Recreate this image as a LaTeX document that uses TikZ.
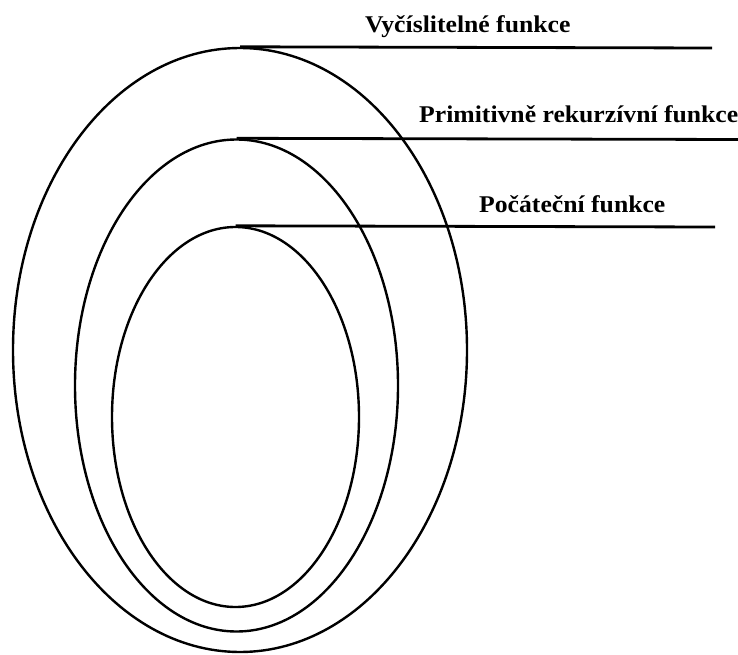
\documentclass[tikz,border=0pt]{standalone}
\usepackage{fontspec}
\setmainfont{Liberation Serif}
\usetikzlibrary{shapes.geometric}
\tikzset{
  setbox/.style={draw=black, line width=2.4pt, ellipse, inner sep=0pt},
  leader/.style={draw=black, line width=2.8pt},
  lbl/.style={anchor=base west, inner sep=0pt, font=\fontsize{24}{28}\selectfont\bfseries}
}
\begin{document}
\begin{tikzpicture}[x=1pt,y=-1pt]
\useasboundingbox (0,0) rectangle (738,655);
\node[setbox, minimum width=454pt, minimum height=604pt] (outer) at (240,350) {};
\node[setbox, minimum width=323pt, minimum height=492pt] (mid) at (236.5,385.5) {};
\node[setbox, minimum width=247pt, minimum height=380pt] (inner) at (235.5,417) {};
\coordinate (e1) at (712,48);
\coordinate (e2) at (738,139.5);
\coordinate (e3) at (715,227);
\draw[leader] (outer.north) -- (e1);
\draw[leader] (mid.north) -- (e2);
\draw[leader] (inner.north) -- (e3);
\node[lbl] (t1) at (365,33) {\scalebox{1.07}[1]{Vyčíslitelné funkce}};
\node[lbl] (t2) at (419,123) {\scalebox{1.07}[1]{Primitivně rekurzívní funkce}};
\node[lbl] (t3) at (479,212) {\scalebox{1.07}[1]{Počáteční funkce}};
\end{tikzpicture}
\end{document}
